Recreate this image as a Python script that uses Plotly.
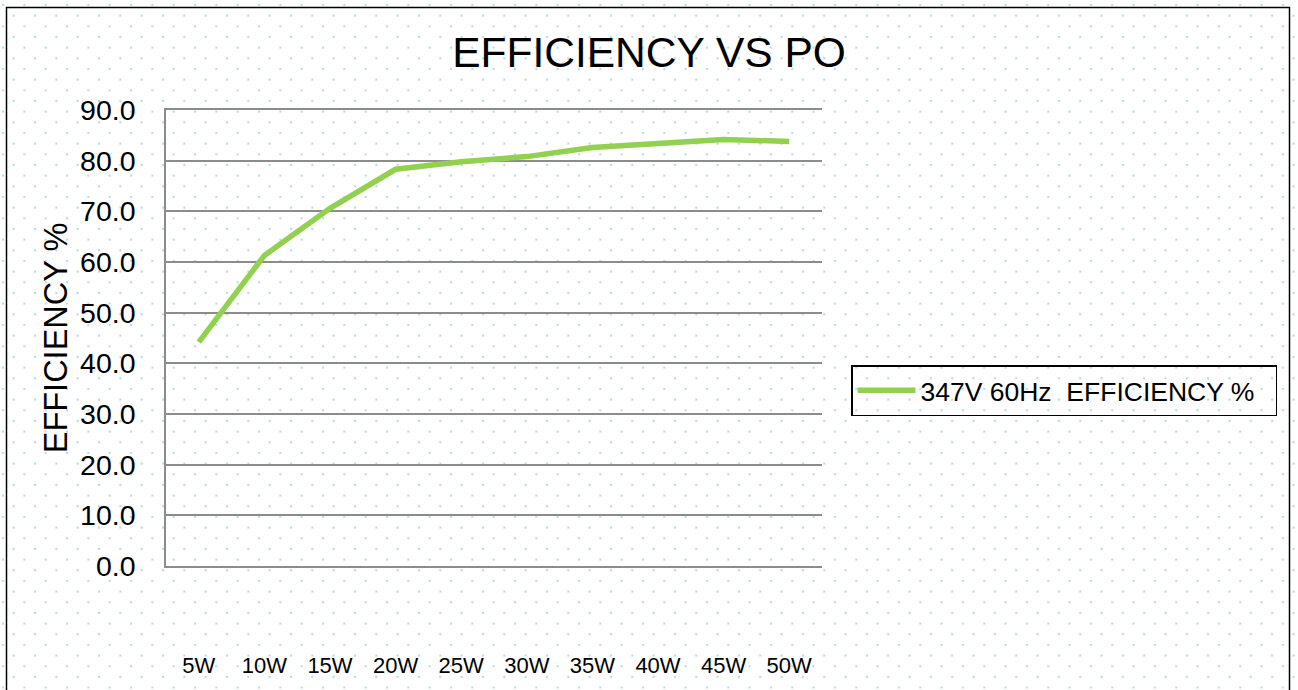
import base64
import plotly.graph_objects as go

categories = ["5W", "10W", "15W", "20W", "25W", "30W", "35W", "40W", "45W", "50W"]
efficiency = [44.2, 61.3, 70.6, 78.3, 79.8, 80.8, 82.6, 83.5, 84.2, 83.8]
y_ticks = [0, 10, 20, 30, 40, 50, 60, 70, 80, 90]
series_name = "347V 60Hz\u00a0\u00a0EFFICIENCY %"

W, H = 1298, 690
L, R, T, B = 166, 822, 110, 566
pw, ph = R - L, B - T

# dotted background as an SVG pattern
svg = f'''<svg xmlns="http://www.w3.org/2000/svg" width="{W}" height="{H}">
<defs><pattern id="p" x="2" y="4" width="21.33" height="21.33" patternUnits="userSpaceOnUse">
<circle cx="1" cy="1" r="1.2" fill="#b3dce0"/><circle cx="11.67" cy="11.67" r="1.2" fill="#b3dce0"/>
</pattern></defs><rect width="{W}" height="{H}" fill="#ffffff"/><rect width="{W}" height="{H}" fill="url(#p)"/></svg>'''
img = "data:image/svg+xml;base64," + base64.b64encode(svg.encode()).decode()

font = "Arial, 'Liberation Sans', sans-serif"
grid = "#8c8c8c"

fig = go.Figure()
fig.add_trace(go.Scatter(
    x=categories, y=efficiency, mode="lines", name=series_name,
    line=dict(color="#92d050", width=5.5), showlegend=True,
))

def px_x(p):
    return (p - L) / pw

def px_y(p):
    return (B - p) / ph

fig.update_layout(
    width=W, height=H,
    margin=dict(l=L, r=W - R, t=T, b=H - B, autoexpand=False),
    paper_bgcolor="white",
    plot_bgcolor="rgba(0,0,0,0)",
    font=dict(family=font, color="black"),
    title=dict(text="EFFICIENCY VS PO", x=0.5, xanchor="center", y=1 - 52 / H, yanchor="middle",
               font=dict(size=42.5, family=font, color="black")),
    xaxis=dict(
        type="category", range=[-0.5, 9.5], showgrid=False, zeroline=False,
        showline=True, mirror=True, linecolor=grid, linewidth=1.5,
        ticks="", tickfont=dict(size=22, color="black"),
        ticklabelstandoff=79,
    ),
    yaxis=dict(
        range=[0, 90], tickvals=y_ticks, ticktext=[f"{v:.1f}" for v in y_ticks],
        showgrid=True, gridcolor=grid, gridwidth=1.5, zeroline=False,
        showline=True, linecolor=grid, linewidth=1.5, ticks="",
        tickfont=dict(size=28.5, color="black"), ticklabelstandoff=23,
        title=dict(text="EFFICIENCY %", font=dict(size=32.5, color="black"), standoff=3),
    ),
    legend=dict(
        x=px_x(851), y=px_y(365), xanchor="left", yanchor="top",
        orientation="h",
        bordercolor="black", borderwidth=1.5, bgcolor="rgba(0,0,0,0)",
        font=dict(size=26.5, color="black"),
        itemwidth=58, entrywidth=350, entrywidthmode="pixels",
    ),
    images=[dict(source=img, xref="paper", yref="paper",
                 x=px_x(0), y=px_y(0), sizex=W / pw, sizey=H / ph,
                 xanchor="left", yanchor="top", sizing="stretch", layer="below")],
    shapes=[dict(type="rect", xref="paper", yref="paper",
                 x0=px_x(6.5), x1=px_x(1289.5), y0=px_y(700), y1=px_y(7.5),
                 line=dict(color="black", width=1.5), fillcolor="rgba(0,0,0,0)", layer="above")],
)

fig.write_html("out.html", config={"displayModeBar": False},
               post_script="document.body.style.margin='0';document.body.style.overflow='hidden';")
